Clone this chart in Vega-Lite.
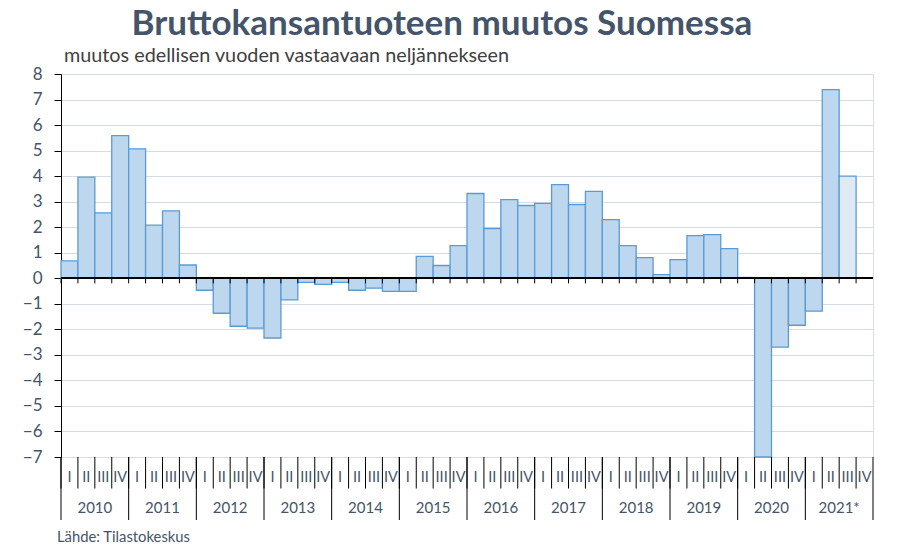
{
  "$schema": "https://vega.github.io/schema/vega-lite/v6.json",
  "padding": {"left": 21, "top": 6, "right": 20, "bottom": 5},
  "background": "white",
  "title": {
    "text": "Bruttokansantuoteen muutos Suomessa",
    "anchor": "middle",
    "font": "Lato",
    "fontSize": 35,
    "fontWeight": "bold",
    "color": "#44546a",
    "dx": -6,
    "offset": 4
  },
  "datasets": {
    "bkt": [
      {"vuosi": "2010", "neljannes": "I", "muutos": 0.68, "tila": "tilasto"},
      {"vuosi": "2010", "neljannes": "II", "muutos": 3.96, "tila": "tilasto"},
      {"vuosi": "2010", "neljannes": "III", "muutos": 2.56, "tila": "tilasto"},
      {"vuosi": "2010", "neljannes": "IV", "muutos": 5.59, "tila": "tilasto"},
      {"vuosi": "2011", "neljannes": "I", "muutos": 5.07, "tila": "tilasto"},
      {"vuosi": "2011", "neljannes": "II", "muutos": 2.08, "tila": "tilasto"},
      {"vuosi": "2011", "neljannes": "III", "muutos": 2.64, "tila": "tilasto"},
      {"vuosi": "2011", "neljannes": "IV", "muutos": 0.52, "tila": "tilasto"},
      {"vuosi": "2012", "neljannes": "I", "muutos": -0.47, "tila": "tilasto"},
      {"vuosi": "2012", "neljannes": "II", "muutos": -1.37, "tila": "tilasto"},
      {"vuosi": "2012", "neljannes": "III", "muutos": -1.88, "tila": "tilasto"},
      {"vuosi": "2012", "neljannes": "IV", "muutos": -1.95, "tila": "tilasto"},
      {"vuosi": "2013", "neljannes": "I", "muutos": -2.34, "tila": "tilasto"},
      {"vuosi": "2013", "neljannes": "II", "muutos": -0.85, "tila": "tilasto"},
      {"vuosi": "2013", "neljannes": "III", "muutos": -0.16, "tila": "tilasto"},
      {"vuosi": "2013", "neljannes": "IV", "muutos": -0.24, "tila": "tilasto"},
      {"vuosi": "2014", "neljannes": "I", "muutos": -0.16, "tila": "tilasto"},
      {"vuosi": "2014", "neljannes": "II", "muutos": -0.47, "tila": "tilasto"},
      {"vuosi": "2014", "neljannes": "III", "muutos": -0.39, "tila": "tilasto"},
      {"vuosi": "2014", "neljannes": "IV", "muutos": -0.51, "tila": "tilasto"},
      {"vuosi": "2015", "neljannes": "I", "muutos": -0.51, "tila": "tilasto"},
      {"vuosi": "2015", "neljannes": "II", "muutos": 0.86, "tila": "tilasto"},
      {"vuosi": "2015", "neljannes": "III", "muutos": 0.5, "tila": "tilasto"},
      {"vuosi": "2015", "neljannes": "IV", "muutos": 1.28, "tila": "tilasto"},
      {"vuosi": "2016", "neljannes": "I", "muutos": 3.32, "tila": "tilasto"},
      {"vuosi": "2016", "neljannes": "II", "muutos": 1.95, "tila": "tilasto"},
      {"vuosi": "2016", "neljannes": "III", "muutos": 3.08, "tila": "tilasto"},
      {"vuosi": "2016", "neljannes": "IV", "muutos": 2.85, "tila": "tilasto"},
      {"vuosi": "2017", "neljannes": "I", "muutos": 2.93, "tila": "tilasto"},
      {"vuosi": "2017", "neljannes": "II", "muutos": 3.67, "tila": "tilasto"},
      {"vuosi": "2017", "neljannes": "III", "muutos": 2.89, "tila": "tilasto"},
      {"vuosi": "2017", "neljannes": "IV", "muutos": 3.4, "tila": "tilasto"},
      {"vuosi": "2018", "neljannes": "I", "muutos": 2.3, "tila": "tilasto"},
      {"vuosi": "2018", "neljannes": "II", "muutos": 1.28, "tila": "tilasto"},
      {"vuosi": "2018", "neljannes": "III", "muutos": 0.81, "tila": "tilasto"},
      {"vuosi": "2018", "neljannes": "IV", "muutos": 0.14, "tila": "tilasto"},
      {"vuosi": "2019", "neljannes": "I", "muutos": 0.73, "tila": "tilasto"},
      {"vuosi": "2019", "neljannes": "II", "muutos": 1.67, "tila": "tilasto"},
      {"vuosi": "2019", "neljannes": "III", "muutos": 1.71, "tila": "tilasto"},
      {"vuosi": "2019", "neljannes": "IV", "muutos": 1.16, "tila": "tilasto"},
      {"vuosi": "2020", "neljannes": "I", "muutos": 0.03, "tila": "tilasto"},
      {"vuosi": "2020", "neljannes": "II", "muutos": -7.0, "tila": "tilasto"},
      {"vuosi": "2020", "neljannes": "III", "muutos": -2.7, "tila": "tilasto"},
      {"vuosi": "2020", "neljannes": "IV", "muutos": -1.84, "tila": "tilasto"},
      {"vuosi": "2021*", "neljannes": "I", "muutos": -1.29, "tila": "tilasto"},
      {"vuosi": "2021*", "neljannes": "II", "muutos": 7.39, "tila": "tilasto"},
      {"vuosi": "2021*", "neljannes": "III", "muutos": 4.0, "tila": "ennakko"},
      {"vuosi": "2021*", "neljannes": "IV", "muutos": null, "tila": "puuttuu"}
    ]
  },
  "transform": [
    {"calculate": "datum.vuosi + ' ' + datum.neljannes", "as": "jakso"}
  ],
  "data": {"name": "bkt"},
  "bounds": "flush",
  "spacing": 0,
  "resolve": {"scale": {"x": "shared"}},
  "vconcat": [
    {
      "width": 812,
      "height": 383,
      "title": {
        "text": "muutos edellisen vuoden vastaavaan neljännekseen",
        "anchor": "start",
        "frame": "group",
        "font": "Lato",
        "fontSize": 19.8,
        "fontWeight": "normal",
        "color": "#404040",
        "dx": 3,
        "offset": -1
      },
      "encoding": {
        "x": {
          "field": "jakso",
          "type": "nominal",
          "sort": null,
          "axis": null,
          "scale": {"paddingInner": 0, "paddingOuter": 0}
        }
      },
      "layer": [
        {
          "mark": {"type": "bar", "stroke": "#5b9bd5", "strokeWidth": 1.3},
          "transform": [{"filter": "isValid(datum.muutos)"}],
          "encoding": {
            "y": {
              "field": "muutos",
              "type": "quantitative",
              "scale": {"domain": [-7, 8], "nice": false, "zero": true},
              "axis": {
                "title": null,
                "values": [-7, -6, -5, -4, -3, -2, -1, 0, 1, 2, 3, 4, 5, 6, 7, 8],
                "format": "d",
                "labelOverlap": false,
                "grid": true,
                "gridColor": "#d6dce5",
                "gridWidth": 1,
                "domainColor": "#000000",
                "domainWidth": 1,
                "tickColor": "#000000",
                "tickSize": 7,
                "labelPadding": 12,
                "labelFont": "Lato",
                "labelFontSize": 17,
                "labelColor": "#44546a"
              }
            },
            "fill": {
              "field": "tila",
              "type": "nominal",
              "scale": {"domain": ["tilasto", "ennakko"], "range": ["#bdd7ee", "#deebf7"]},
              "legend": null
            }
          }
        },
        {
          "mark": {"type": "rule", "color": "#000000", "strokeWidth": 1},
          "encoding": {
            "x": null,
            "y": {
              "datum": 0,
              "type": "quantitative",
              "axis": {
                "title": null,
                "values": [-7, -6, -5, -4, -3, -2, -1, 0, 1, 2, 3, 4, 5, 6, 7, 8],
                "format": "d",
                "labelOverlap": false,
                "grid": true,
                "gridColor": "#d6dce5",
                "gridWidth": 1,
                "domainColor": "#000000",
                "domainWidth": 1,
                "tickColor": "#000000",
                "tickSize": 7,
                "labelPadding": 12,
                "labelFont": "Lato",
                "labelFontSize": 17,
                "labelColor": "#44546a"
              }
            }
          }
        },
        {
          "mark": {"type": "rule", "color": "#000000", "strokeWidth": 1},
          "encoding": {
            "x": {"field": "jakso", "type": "nominal", "sort": null, "bandPosition": 0},
            "y": {
              "datum": 0,
              "type": "quantitative",
              "axis": {
                "title": null,
                "values": [-7, -6, -5, -4, -3, -2, -1, 0, 1, 2, 3, 4, 5, 6, 7, 8],
                "format": "d",
                "labelOverlap": false,
                "grid": true,
                "gridColor": "#d6dce5",
                "gridWidth": 1,
                "domainColor": "#000000",
                "domainWidth": 1,
                "tickColor": "#000000",
                "tickSize": 7,
                "labelPadding": 12,
                "labelFont": "Lato",
                "labelFontSize": 17,
                "labelColor": "#44546a"
              }
            },
            "y2": {"datum": -0.2}
          }
        }
      ]
    },
    {
      "width": 812,
      "height": 63,
      "view": {"stroke": null},
      "title": {
        "text": "Lähde: Tilastokeskus",
        "orient": "bottom",
        "anchor": "start",
        "frame": "group",
        "font": "Lato",
        "fontSize": 14.8,
        "fontWeight": "normal",
        "color": "#44546a",
        "dx": -4,
        "offset": 9
      },
      "encoding": {
        "x": {
          "field": "jakso",
          "type": "nominal",
          "sort": null,
          "axis": null,
          "scale": {"paddingInner": 0, "paddingOuter": 0}
        }
      },
      "layer": [
        {
          "mark": {"type": "rule", "color": "#000000", "strokeWidth": 1},
          "encoding": {
            "x": {"field": "jakso", "type": "nominal", "sort": null, "bandPosition": 0},
            "y": {"datum": 0, "type": "quantitative", "scale": {"domain": [0, 2], "reverse": true}, "axis": null},
            "y2": {"datum": 1}
          }
        },
        {
          "mark": {"type": "rule", "color": "#000000", "strokeWidth": 1},
          "transform": [{"filter": "datum.neljannes === 'I'"}],
          "encoding": {
            "x": {"field": "jakso", "type": "nominal", "sort": null, "bandPosition": 0},
            "y": {"datum": 0, "type": "quantitative"},
            "y2": {"datum": 2}
          }
        },
        {
          "mark": {"type": "rule", "color": "#000000", "strokeWidth": 1},
          "transform": [{"filter": "datum.vuosi === '2021*' && datum.neljannes === 'IV'"}],
          "encoding": {
            "x": {"field": "jakso", "type": "nominal", "sort": null, "bandPosition": 1},
            "y": {"datum": 0, "type": "quantitative"},
            "y2": {"datum": 2}
          }
        },
        {
          "mark": {"type": "text", "font": "Lato", "fontSize": 14.5, "color": "#44546a", "baseline": "middle"},
          "encoding": {
            "x": {"field": "jakso", "type": "nominal", "sort": null},
            "y": {"datum": 0.67, "type": "quantitative"},
            "text": {"field": "neljannes"}
          }
        },
        {
          "mark": {"type": "text", "font": "Lato", "fontSize": 15, "color": "#44546a", "baseline": "middle"},
          "transform": [{"filter": "datum.neljannes === 'II'"}],
          "encoding": {
            "x": {"field": "jakso", "type": "nominal", "sort": null, "bandPosition": 1},
            "y": {"datum": 1.63, "type": "quantitative"},
            "text": {"field": "vuosi"}
          }
        }
      ]
    }
  ]
}
